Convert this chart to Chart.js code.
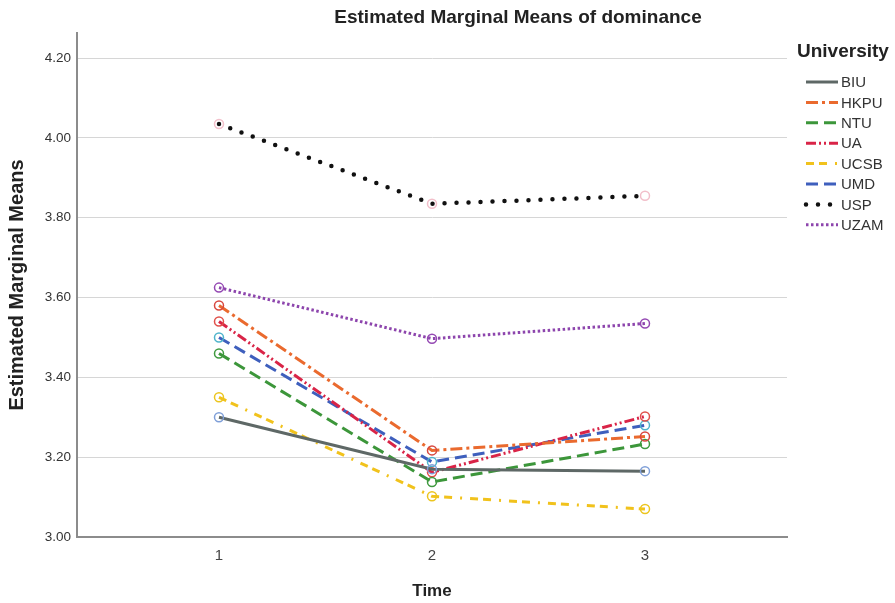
<!DOCTYPE html>
<html>
<head>
<meta charset="utf-8">
<title>Estimated Marginal Means of dominance</title>
<script src="https://cdn.jsdelivr.net/npm/chart.js@4/dist/chart.umd.min.js"></script>
<style>
    html, body { margin: 0; padding: 0; background: #ffffff; }
    #wrap { width: 895px; height: 603px; }
</style>
</head>
<body>
<div id="wrap"><canvas id="emm" width="895" height="603"></canvas></div>
<script>
// Time points on the x axis and tick values on the y axis
const times = [1, 2, 3];
const yTicks = [3.00, 3.20, 3.40, 3.60, 3.80, 4.00, 4.20];

// Estimated marginal means per university (Time 1, 2, 3)
const BIU  = [3.30, 3.170, 3.165];
const HKPU = [3.58, 3.217, 3.252];
const NTU  = [3.46, 3.138, 3.233];
const UA   = [3.54, 3.162, 3.302];
const UCSB = [3.35, 3.102, 3.070];
const UMD  = [3.50, 3.188, 3.280];
const USP  = [4.035, 3.835, 3.855];
const UZAM = [3.625, 3.497, 3.535];

const chartTitle = 'Estimated Marginal Means of dominance';
const legendTitle = 'University';

const FONT = '"Liberation Sans", Arial, sans-serif';

function series(label, values, color, marker, dash, width, cap) {
    return {
        label: label,
        data: values.map((v, i) => ({ x: times[i], y: v })),
        borderColor: color,
        borderWidth: width,
        borderDash: dash,
        borderCapStyle: cap || 'butt',
        pointRadius: 4.5,
        pointHoverRadius: 4.5,
        pointBorderWidth: 1.5,
        pointBorderColor: marker,
        pointBackgroundColor: 'rgba(255,255,255,0)',
        tension: 0
    };
}

const datasets = [
    series('BIU',  BIU,  '#5e6866', '#7f9fd8', [], 3),
    series('HKPU', HKPU, '#ea6a2e', '#d8473f', [12, 4, 3, 4], 3),
    series('NTU',  NTU,  '#3c963a', '#3f9a3f', [12, 6], 3),
    series('UA',   UA,   '#d92447', '#e0504a', [10, 3, 2, 3, 2, 3], 3),
    series('UCSB', UCSB, '#f1c21c', '#ecc51e', [8, 5, 8, 8, 2, 8], 3),
    series('UMD',  UMD,  '#3e5fbd', '#4fb4cc', [12, 6], 3),
    series('USP',  USP,  '#111111', '#f2bfca', [0, 12], 4.5, 'round'),
    series('UZAM', UZAM, '#8d45ad', '#9448b3', [2.5, 2.5], 3)
];

// Chart title and the line-sample legend on the right
const decorations = {
    id: 'decorations',
    afterDraw(chart) {
        const ctx = chart.ctx;
        ctx.save();
        ctx.fillStyle = '#222';
        ctx.textBaseline = 'middle';
        ctx.textAlign = 'center';
        ctx.font = 'bold 19px ' + FONT;
        ctx.fillText(chartTitle, 518, 18);

        ctx.textAlign = 'left';
        ctx.font = 'bold 19px ' + FONT;
        ctx.fillText(legendTitle, 797, 52);

        ctx.font = '15px ' + FONT;
        chart.data.datasets.forEach((ds, i) => {
            const y = 82 + i * 20.4;
            ctx.save();
            ctx.strokeStyle = ds.borderColor;
            ctx.lineWidth = ds.borderWidth;
            ctx.lineCap = ds.borderCapStyle;
            ctx.setLineDash(ds.borderDash);
            ctx.beginPath();
            ctx.moveTo(806, y);
            ctx.lineTo(838, y);
            ctx.stroke();
            ctx.restore();
            ctx.fillStyle = '#333';
            ctx.fillText(ds.label, 841, y + 1);
        });
        ctx.restore();
    }
};

new Chart(document.getElementById('emm').getContext('2d'), {
    type: 'line',
    data: { datasets: datasets },
    options: {
        responsive: false,
        maintainAspectRatio: false,
        animation: false,
        events: [],
        layout: { padding: { top: 33, right: 108, left: 0, bottom: 0 } },
        plugins: {
            legend: { display: false },
            title: { display: false },
            tooltip: { enabled: false }
        },
        scales: {
            x: {
                type: 'linear',
                min: 1 - 2 / 3,
                max: 3 + 2 / 3,
                afterBuildTicks: scale => { scale.ticks = times.map(v => ({ value: v })); },
                afterFit: scale => { scale.height = 66; },
                grid: { display: false, drawTicks: false },
                border: { display: true, color: '#8c8c8c', width: 2 },
                ticks: {
                    padding: 10,
                    color: '#444',
                    font: { family: FONT, size: 15 },
                    callback: v => String(v)
                },
                title: {
                    display: true,
                    text: 'Time',
                    color: '#222',
                    font: { family: FONT, size: 17, weight: 'bold' },
                    padding: { top: 0, bottom: 1 }
                }
            },
            y: {
                type: 'linear',
                min: 3.0,
                max: 4.263,
                afterBuildTicks: scale => { scale.ticks = yTicks.map(v => ({ value: v })); },
                afterFit: scale => { scale.width = 77; },
                grid: { color: '#d6d6d6', lineWidth: 1, drawTicks: false },
                border: { display: true, color: '#8c8c8c', width: 2 },
                ticks: {
                    padding: 6,
                    color: '#333',
                    font: { family: FONT, size: 13.5 },
                    callback: v => v.toFixed(2)
                },
                title: {
                    display: true,
                    text: 'Estimated Marginal Means',
                    color: '#222',
                    font: { family: FONT, size: 20, weight: 'bold' },
                    padding: { top: 5, bottom: 0 }
                }
            }
        }
    },
    plugins: [decorations]
});
</script>
</body>
</html>
